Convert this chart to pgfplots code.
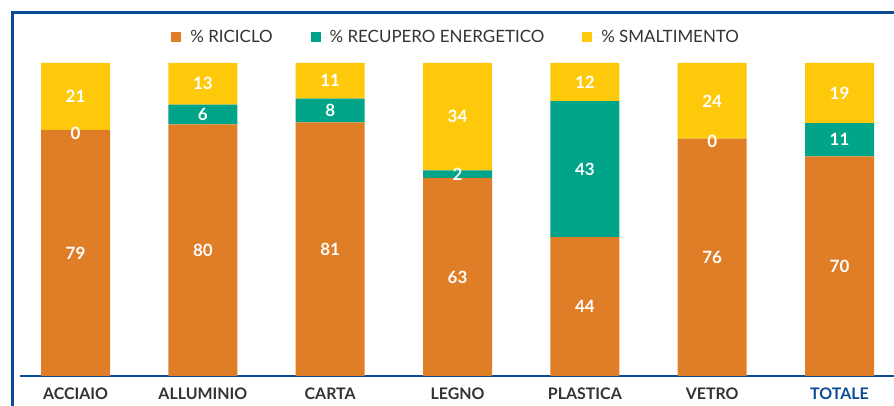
\documentclass[border=0pt]{standalone}
\usepackage{fontspec}
\setmainfont{Lato}
\usepackage{pgfplots}
\pgfplotsset{compat=1.18}
\definecolor{cOr}{HTML}{E07D27}
\definecolor{cTe}{HTML}{00A488}
\definecolor{cYe}{HTML}{FEC90B}
\definecolor{cBl}{HTML}{0B4C96}
\definecolor{cTx}{HTML}{333333}
\begin{document}
\begin{tikzpicture}
\useasboundingbox (0,0) rectangle (894bp,406bp);
\fill[white] (0,0) rectangle (894bp,406bp);
\draw[cBl, line width=2.2bp] (12.5bp,-5bp) -- (12.5bp,393.5bp) -- (900bp,393.5bp);
\begin{axis}[
  at={(20bp,30bp)}, anchor=south west,
  scale only axis, width=874bp, height=313bp,
  ybar stacked, bar width=69bp,
  xmin=-0.436, xmax=6.428, ymin=0, ymax=100,
  axis x line=bottom, axis y line=none,
  x axis line style={-, draw=cBl, line width=1.6bp},
  xtick={0,...,6},
  xticklabels={ACCIAIO,ALLUMINIO,CARTA,LEGNO,PLASTICA,VETRO,\textcolor{cBl}{TOTALE}},
  xtick style={draw=none}, major tick length=0pt,
  xticklabel style={font=\fontsize{16}{19}\selectfont\bfseries, text=cTx, anchor=base, yshift=-23bp},
  /pgf/number format/fixed, /pgf/number format/precision=0,
  /pgf/number format/assume math mode=true,
  nodes near coords, point meta=rawy,
  nodes near coords style={font=\fontsize{17}{20}\selectfont\bfseries, text=white, anchor=center},
  legend style={at={(axis description cs:0.499,1.083)}, anchor=center, draw=none, fill=none,
    legend columns=3, font=\fontsize{17}{20}\selectfont, text=cTx,
    /tikz/every even column/.append style={column sep=36bp}},
  legend image code/.code={\fill[#1] (0bp,-5bp) rectangle (10bp,5bp); \path (10bp,0bp) -- (17bp,0bp);},
]
\addplot[fill=cOr, draw=none] coordinates {(0,78.6) (1,80.4) (2,81.0) (3,63.3) (4,44.4) (5,75.8) (6,70.2)};
\addplot[fill=cTe, draw=none] coordinates {(0,0) (1,6.3) (2,7.6) (3,2.4) (4,43.4) (5,0) (6,10.6)};
\addplot[fill=cYe, draw=none] coordinates {(0,21.4) (1,13.3) (2,11.4) (3,34.3) (4,12.2) (5,24.2) (6,19.2)};
\legend{\% RICICLO, \% RECUPERO ENERGETICO, \% SMALTIMENTO}
\end{axis}
% labels of the two zero segments (recupero energetico = 0)
\begin{axis}[
  at={(20bp,30bp)}, anchor=south west,
  scale only axis, width=874bp, height=313bp,
  xmin=-0.436, xmax=6.428, ymin=0, ymax=100,
  hide axis,
]
\addplot[only marks, mark=none, nodes near coords, point meta=explicit symbolic,
  nodes near coords style={font=\fontsize{17}{20}\selectfont\bfseries, text=white, anchor=center, yshift=-3bp}]
  coordinates {(0,78.6)[0] (5,75.8)[0]};
\end{axis}
\end{tikzpicture}
\end{document}
